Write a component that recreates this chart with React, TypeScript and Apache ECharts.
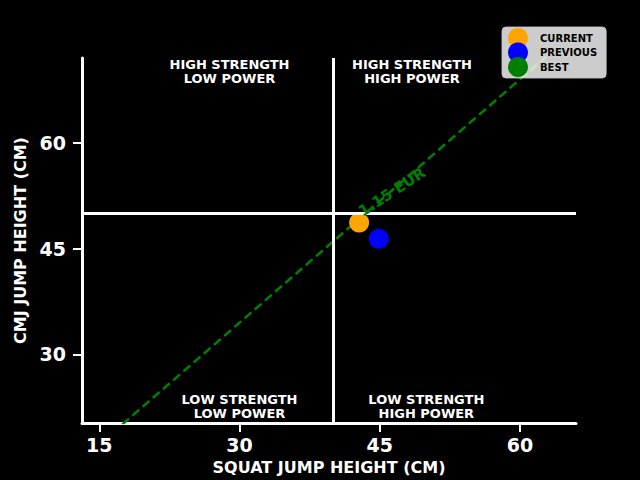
import React, { useEffect, useRef } from "react";
import * as echarts from "echarts";

const SERIES_NAMES = ["CURRENT", "PREVIOUS", "BEST"];
const SERIES_COLORS = ["#FFA500", "#0000FF", "#008000"];
const CURRENT: number[][] = [[42.8, 48.7]];
const PREVIOUS: number[][] = [[44.9, 46.4]];
const BEST: number[][] = [];
const X_TICKS = [15, 30, 45, 60];
const Y_TICKS = [30, 45, 60];
const X_RANGE = [13.15, 66];
const Y_RANGE = [20.27, 72.03];
const SPLIT_X = 40;
const SPLIT_Y = 50;
const REF_RATIO = 1.15;
const REF_X = [0, 80];
const REF_LABEL = "1.15 EUR";
const QUADRANT_LABELS = [
  ["HIGH STRENGTH", "LOW POWER"],
  ["HIGH STRENGTH", "HIGH POWER"],
  ["LOW STRENGTH", "LOW POWER"],
  ["LOW STRENGTH", "HIGH POWER"],
];

const FONT = "DejaVu Sans";

export default function App() {
  const ref = useRef<HTMLDivElement>(null);
  useEffect(() => {
    document.body.style.margin = "0";
    document.body.style.background = "#000";
    const chart = echarts.init(ref.current!, null, { renderer: "svg" });
    const qText = (x: number, y: number, text: string) => ({
      type: "text",
      x,
      y,
      style: {
        text,
        fill: "#fff",
        font: `bold 13px "${FONT}"`,
        textAlign: "center",
        textVerticalAlign: "middle",
        lineHeight: 13,
      },
      z: 10,
    });
    const quad = (x: number, yc: number, lines: string[]) => [
      qText(x, yc - 7, lines[0]),
      qText(x, yc + 7, lines[1]),
    ];
    chart.setOption({
      animation: false,
      backgroundColor: "#000",
      grid: { left: 82, right: 64, top: 58, bottom: 55 },
      legend: {
        data: SERIES_NAMES,
        orient: "vertical",
        left: 502,
        top: 27,
        padding: [1, 9, 1, 6],
        itemWidth: 20,
        itemHeight: 20,
        itemGap: -5.5,
        icon: "circle",
        backgroundColor: "rgba(255,255,255,0.8)",
        borderColor: "rgba(204,204,204,0.8)",
        borderWidth: 1,
        borderRadius: 4,
        textStyle: {
          color: "#000",
          fontFamily: FONT,
          fontWeight: "bold",
          fontSize: 10,
          padding: [0, 0, 0, 7],
        },
      },
      xAxis: {
        type: "value",
        min: X_RANGE[0],
        max: X_RANGE[1],
        name: "SQUAT JUMP HEIGHT (CM)",
        nameLocation: "middle",
        nameGap: 33,
        nameTextStyle: { color: "#fff", fontFamily: FONT, fontWeight: "bold", fontSize: 16 },
        axisLine: { show: true, lineStyle: { color: "#fff", width: 3 } },
        axisTick: { show: true, length: 9, lineStyle: { color: "#fff", width: 2 }, customValues: X_TICKS },
        axisLabel: {
          color: "#fff",
          fontFamily: FONT,
          fontWeight: "bold",
          fontSize: 19,
          margin: 12,
          customValues: X_TICKS,
        },
        splitLine: { show: false },
      },
      yAxis: {
        type: "value",
        min: Y_RANGE[0],
        max: Y_RANGE[1],
        name: "CMJ JUMP HEIGHT (CM)",
        nameLocation: "middle",
        nameGap: 51,
        nameTextStyle: { color: "#fff", fontFamily: FONT, fontWeight: "bold", fontSize: 16 },
        axisLine: { show: true, lineStyle: { color: "#fff", width: 3 } },
        axisTick: { show: true, length: 9, lineStyle: { color: "#fff", width: 2 }, customValues: Y_TICKS },
        axisLabel: {
          color: "#fff",
          fontFamily: FONT,
          fontWeight: "bold",
          fontSize: 19,
          margin: 16,
          customValues: Y_TICKS,
        },
        splitLine: { show: false },
      },
      series: [
        {
          name: "ref",
          type: "line",
          data: REF_X.map((x) => [x, x * REF_RATIO]),
          symbol: "none",
          clip: true,
          lineStyle: { color: "#008000", width: 2.5, type: [9, 4.5] },
          z: 1,
          markLine: {
            silent: true,
            symbol: "none",
            label: { show: false },
            lineStyle: { color: "#fff", width: 3, type: "solid" },
            data: [{ xAxis: SPLIT_X }, { yAxis: SPLIT_Y }],
          },
        },
        {
          name: SERIES_NAMES[0],
          type: "scatter",
          data: CURRENT,
          symbolSize: 20,
          itemStyle: { color: SERIES_COLORS[0], opacity: 1 },
          z: 3,
        },
        {
          name: SERIES_NAMES[1],
          type: "scatter",
          data: PREVIOUS,
          symbolSize: 20,
          itemStyle: { color: SERIES_COLORS[1], opacity: 1 },
          z: 3,
        },
        {
          name: SERIES_NAMES[2],
          type: "scatter",
          data: BEST,
          symbolSize: 20,
          itemStyle: { color: SERIES_COLORS[2], opacity: 1 },
          z: 3,
        },
      ],
      graphic: [
        ...quad(229.5, 71, QUADRANT_LABELS[0]),
        ...quad(412, 71, QUADRANT_LABELS[1]),
        ...quad(239.5, 406, QUADRANT_LABELS[2]),
        ...quad(426.3, 406, QUADRANT_LABELS[3]),
        {
          type: "text",
          x: 392,
          y: 192,
          rotation: (33 * Math.PI) / 180,
          style: {
            text: REF_LABEL,
            fill: "#008000",
            font: `bold 15px "${FONT}"`,
            textAlign: "center",
            textVerticalAlign: "middle",
          },
          z: 10,
        },
      ],
    });
    return () => chart.dispose();
  }, []);
  return <div ref={ref} style={{ width: 640, height: 480 }} />;
}
